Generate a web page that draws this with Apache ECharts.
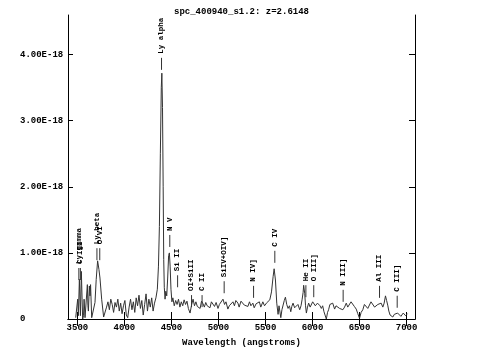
<!DOCTYPE html>
<html>
<head>
<meta charset="utf-8">
<script src="https://cdn.jsdelivr.net/npm/echarts@6/dist/echarts.min.js"></script>
<style>
  html, body { margin: 0; padding: 0; background: #fff; }
  #chart { width: 483px; height: 358px; }
</style>
</head>
<body>
<div id="chart"></div>
<script>
// observed wavelength (angstroms)
const wave = [
  3482,3495,3503,3510,3521,3532,3542,3550,3556,3565,
  3571,3581,3592,3606,3612,3617,3627,3634,3640,3652,
  3670,3687,3700,3715,3729,3740,3758,3779,3795,3810,
  3825,3840,3855,3870,3885,3900,3915,3930,3945,3960,
  3975,3990,4005,4020,4035,4050,4065,4080,4095,4110,
  4125,4140,4155,4170,4185,4200,4215,4230,4245,4260,
  4275,4290,4305,4320,4335,4350,4362,4372,4382,4392,
  4398,4405,4412,4418,4424,4432,4440,4450,4460,4470,
  4478,4486,4495,4505,4515,4530,4545,4560,4575,4590,
  4605,4620,4635,4650,4665,4680,4698,4715,4730,4745,
  4760,4775,4790,4805,4820,4836,4850,4865,4880,4895,
  4910,4925,4942,4958,4975,4995,5010,5025,5048,5065,
  5080,5100,5115,5130,5154,5170,5185,5207,5220,5240,
  5260,5275,5290,5313,5330,5345,5366,5380,5400,5419,
  5435,5450,5472,5490,5510,5528,5546,5564,5581,5592,
  5606,5620,5634,5644,5652,5663,5675,5687,5700,5712,
  5726,5740,5755,5769,5780,5793,5810,5829,5845,5864,
  5878,5889,5900,5906,5917,5926,5935,5947,5959,5975,
  5988,6002,6016,6030,6041,6053,6065,6080,6094,6108,
  6122,6135,6147,6160,6171,6185,6200,6215,6235,6250,
  6270,6288,6306,6323,6341,6359,6375,6394,6410,6429,
  6445,6465,6482,6500,6517,6535,6552,6571,6588,6606,
  6622,6641,6660,6677,6695,6712,6730,6748,6762,6776,
  6788,6800,6812,6825,6840,6854,6870,6889,6905,6924,
  6940,6953,6965,6977,6990,7001,7010
];
// flux, in units of 1E-18
const flux = [
  0.02,0.05,0.30,0.05,0.60,0.05,0.72,0.30,0.00,0.05,
  0.30,0.02,0.05,0.52,0.20,0.12,0.50,0.35,0.52,0.02,
  0.03,0.25,0.60,0.88,0.75,0.62,0.30,0.03,0.06,0.18,
  0.26,0.14,0.30,0.22,0.10,0.25,0.18,0.30,0.12,0.24,
  0.08,0.20,0.28,0.06,0.02,0.18,0.30,0.14,0.26,0.10,
  0.32,0.20,0.36,0.16,0.28,0.06,0.22,0.38,0.12,0.30,
  0.18,0.32,0.12,0.24,0.32,0.45,0.80,1.40,2.50,3.50,
  3.72,3.20,2.00,0.90,0.48,0.30,0.42,0.35,0.62,0.96,
  1.00,0.80,0.45,0.26,0.32,0.20,0.28,0.22,0.30,0.18,
  0.26,0.20,0.29,0.22,0.27,0.16,0.09,0.22,0.30,0.20,
  0.26,0.19,0.22,0.16,0.27,0.23,0.18,0.25,0.20,0.21,
  0.17,0.26,0.24,0.19,0.25,0.16,0.22,0.19,0.30,0.22,
  0.26,0.15,0.20,0.17,0.26,0.20,0.28,0.24,0.18,0.27,
  0.29,0.21,0.24,0.19,0.26,0.20,0.24,0.17,0.23,0.20,
  0.26,0.18,0.26,0.20,0.24,0.26,0.29,0.41,0.64,0.76,
  0.59,0.24,0.07,0.20,0.21,0.02,0.14,0.16,0.28,0.33,
  0.22,0.16,0.20,0.11,0.19,0.24,0.17,0.19,0.22,0.14,
  0.20,0.29,0.40,0.51,0.39,0.20,0.09,0.18,0.24,0.18,
  0.20,0.26,0.26,0.20,0.17,0.24,0.24,0.20,0.16,0.20,
  0.11,0.08,0.00,0.10,0.14,0.22,0.19,0.24,0.15,0.20,
  0.21,0.16,0.16,0.14,0.18,0.24,0.18,0.20,0.26,0.26,
  0.19,0.15,0.08,0.01,0.10,0.14,0.22,0.21,0.16,0.18,
  0.26,0.24,0.18,0.15,0.22,0.20,0.24,0.18,0.24,0.35,
  0.28,0.21,0.12,0.06,0.04,0.03,0.07,0.05,0.09,0.10,
  0.04,0.04,0.09,0.11,0.05,0.04,0.08
];

const redshift = 2.6148;
// emission line marks: name, rest wavelength, flux where the mark starts
const lineNames = ['Ly gamma','C III','Ly beta','O VI','Ly alpha','N V','Si II','OI+SiII','C II',
                   'SiIV+OIV]','N IV]','C IV','He II','O III]','N III]','Al III','C III]'];
const lineRest  = [972.5, 977.0, 1025.7, 1034.0, 1215.7, 1240.0, 1263.0, 1304.0, 1335.0,
                   1400.0, 1486.5, 1549.0, 1640.4, 1663.5, 1750.0, 1857.0, 1909.0];
const lineBase  = [0.59, 0.59, 0.89, 0.89, 3.77, 1.09, 0.48, 0.18, 0.18,
                   0.39, 0.32, 0.85, 0.33, 0.33, 0.26, 0.32, 0.17];

const xTicks = [3500, 4000, 4500, 5000, 5500, 6000, 6500, 7000];
const yTicks = [0, 1, 2, 3, 4];

const font = '"Liberation Mono", "DejaVu Sans Mono", monospace';
const chart = echarts.init(document.getElementById('chart'));

const spectrum = wave.map((w, i) => [w, flux[i]]);
const marks = lineRest.map((r, i) => [r * (1 + redshift), lineBase[i], i]);

const xBase = { type: 'value', min: 3400, max: 7090, splitLine: { show: false } };
const yBase = { type: 'value', min: 0, max: 4.6, splitLine: { show: false } };

chart.setOption({
  animation: false,
  title: {
    text: 'spc_400940_s1.2: z=2.6148',
    left: 'center',
    top: 2,
    textStyle: { fontFamily: font, fontSize: 9, fontWeight: 'bold', color: '#000' }
  },
  grid: { left: 68, right: 68, top: 15, bottom: 39, containLabel: false, outerBoundsMode: 'none' },
  xAxis: [
    Object.assign({}, xBase, {
      position: 'bottom',
      axisLine: { show: true, lineStyle: { color: '#000', width: 1 } },
      axisTick: { show: true, inside: true, length: 7, customValues: xTicks, lineStyle: { color: '#000' } },
      axisLabel: {
        customValues: xTicks, margin: 4, fontFamily: font, fontSize: 9, fontWeight: 'bold', color: '#000',
        formatter: v => String(v)
      },
      name: 'Wavelength (angstroms)',
      nameLocation: 'middle',
      nameGap: 19,
      nameTextStyle: { fontFamily: font, fontSize: 9, fontWeight: 'bold', color: '#000' }
    }),
    Object.assign({}, xBase, {
      position: 'top',
      axisLine: { show: true, lineStyle: { color: '#000', width: 1 } },
      axisTick: { show: true, inside: true, length: 7, customValues: xTicks, lineStyle: { color: '#000' } },
      axisLabel: { show: false }
    })
  ],
  yAxis: [
    Object.assign({}, yBase, {
      position: 'left',
      axisLine: { show: true, lineStyle: { color: '#000', width: 1 } },
      axisTick: { show: true, inside: true, length: 5, customValues: yTicks, lineStyle: { color: '#000' } },
      axisLabel: {
        customValues: yTicks, margin: 48, align: 'left',
        fontFamily: font, fontSize: 9, fontWeight: 'bold', color: '#000',
        formatter: v => v === 0 ? '0' : v.toFixed(2) + 'E-18'
      }
    }),
    Object.assign({}, yBase, {
      position: 'right',
      axisLine: { show: true, lineStyle: { color: '#000', width: 1 } },
      axisTick: { show: true, inside: true, length: 6, customValues: yTicks, lineStyle: { color: '#000' } },
      axisLabel: { show: false }
    })
  ],
  series: [
    {
      type: 'line',
      data: spectrum,
      showSymbol: false,
      lineStyle: { color: '#333', width: 1 },
      silent: true
    },
    {
      type: 'custom',
      data: marks,
      clip: false,
      silent: true,
      renderItem: function (params, api) {
        const p = api.coord([api.value(0), api.value(1)]);
        const name = lineNames[api.value(2)];
        return {
          type: 'group',
          children: [
            {
              type: 'line',
              shape: { x1: p[0], y1: p[1], x2: p[0], y2: p[1] - 12 },
              style: { stroke: '#333', lineWidth: 1 }
            },
            {
              type: 'text',
              x: p[0],
              y: p[1] - 16,
              rotation: Math.PI / 2,
              style: {
                text: name, align: 'left', verticalAlign: 'middle',
                font: 'bold 7.5px ' + font, fill: '#000'
              }
            }
          ]
        };
      }
    }
  ]
});
</script>
</body>
</html>
